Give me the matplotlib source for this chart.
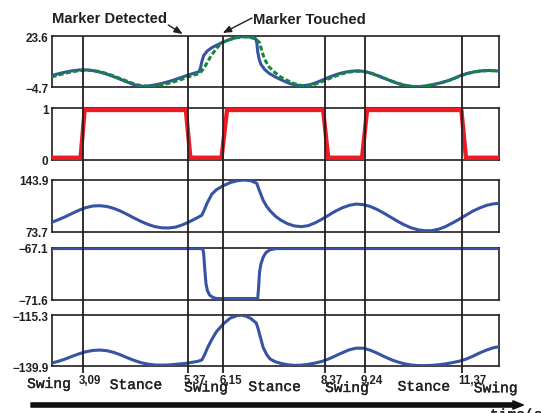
import matplotlib
matplotlib.use("Agg")
import matplotlib.pyplot as plt
import matplotlib.patheffects as pe

plt.rcParams['font.family'] = ['Liberation Sans', 'DejaVu Sans']

# ---- data ----
# event times (vertical markers)
event_times = [3.09, 5.37, 6.15, 8.37, 9.24, 11.37]
event_labels = ['3,09', '5.37', '6,15', '8,37', '9,24', '11,37']
phase_names = ['Swing', 'Stance', 'Swing', 'Stance', 'Swing', 'Stance', 'Swing']

# panel 1: measured (blue) and reference (green dashed)
p1_t = [2.40, 2.55, 2.70, 2.85, 3.00, 3.15, 3.30, 3.45, 3.60, 3.75, 3.90, 4.05, 4.20, 4.35, 4.50,
        4.65, 4.80, 4.95, 5.10, 5.25, 5.37, 5.50, 5.62, 5.65, 5.68, 5.72, 5.80, 5.90, 6.00, 6.15,
        6.30, 6.45, 6.55, 6.65, 6.75, 6.85, 6.88, 6.90, 6.93, 6.97, 7.05, 7.15, 7.30, 7.45, 7.60,
        7.75, 7.90, 8.05, 8.20, 8.35, 8.50, 8.65, 8.80, 8.95, 9.10, 9.25, 9.40, 9.55, 9.70, 9.85,
        10.00, 10.15, 10.30, 10.45, 10.60, 10.75, 10.90, 11.05, 11.20, 11.35, 11.50, 11.65, 11.80,
        11.95, 12.10, 12.17]
p1_v = [1.8, 2.8, 3.7, 4.4, 4.85, 4.9, 4.5, 3.7, 2.6, 1.2, -0.3, -1.8, -3.3, -4.15, -4.0,
        -3.4, -2.6, -1.6, -0.4, 0.9, 2.0, 3.0, 3.9, 6.0, 9.5, 12.8, 15.4, 17.2, 18.5, 20.3,
        21.8, 22.9, 23.3, 23.3, 23.0, 22.3, 20.0, 15.0, 11.0, 8.0, 5.2, 3.0, 0.8, -1.0, -2.6,
        -3.6, -3.8, -3.2, -1.9, -0.3, 1.3, 2.6, 3.6, 4.2, 4.4, 3.9, 2.9, 1.4, -0.1, -1.6,
        -2.9, -3.8, -4.3, -4.3, -3.8, -3.1, -2.2, -1.1, 0.3, 2.0, 3.1, 3.9, 4.4,
        4.6, 4.4, 4.2]

p1_ref_t = [2.40, 2.55, 2.70, 2.85, 3.00, 3.15, 3.30, 3.45, 3.60, 3.75, 3.90, 4.05, 4.20, 4.35,
            4.50, 4.65, 4.80, 4.95, 5.10, 5.25, 5.37, 5.50, 5.63, 5.73, 5.80, 5.88, 6.00, 6.10,
            6.25, 6.40, 6.55, 6.70, 6.85, 6.94, 7.00, 7.05, 7.15, 7.27, 7.40, 7.55, 7.70, 7.85,
            8.00, 8.15, 8.30, 8.45, 8.60, 8.75, 8.90, 9.05, 9.20, 9.35, 9.50, 9.65, 9.80, 9.95,
            10.10, 10.25, 10.40, 10.55, 10.70, 10.85, 11.00, 11.15, 11.30, 11.45, 11.60, 11.75,
            11.90, 12.05, 12.17]
p1_ref_v = [1.0, 2.1, 3.1, 3.9, 4.5, 4.8, 4.6, 3.9, 2.9, 1.6, 0.1, -1.4, -2.8, -3.8,
            -4.2, -4.0, -3.4, -2.5, -1.4, -0.2, 0.9, 2.0, 3.0, 5.9, 9.2, 12.6, 16.8, 19.6,
            21.3, 22.5, 23.1, 23.0, 22.1, 20.0, 14.5, 10.8, 6.5, 3.6, 1.0, -1.0, -2.7, -3.7,
            -3.8, -3.0, -1.6, 0.0, 1.5, 2.8, 3.7, 4.2, 4.1, 3.3, 2.0, 0.5, -1.0, -2.4,
            -3.5, -4.2, -4.4, -4.1, -3.4, -2.6, -1.6, -0.3, 1.3, 2.6, 3.6, 4.2,
            4.5, 4.5, 4.3]

# panel 2: contact signal
p2_t = [2.40, 3.03, 3.12, 5.33, 5.43, 6.11, 6.23, 8.33, 8.44, 9.18, 9.29, 11.35, 11.45, 12.17]
p2_v = [0, 0, 1, 1, 0, 0, 1, 1, 0, 0, 1, 1, 0, 0]

# panel 3
p3_t = [2.40, 2.55, 2.70, 2.85, 3.00, 3.15, 3.30, 3.45, 3.60, 3.75, 3.90, 4.05, 4.20, 4.35, 4.50,
        4.65, 4.80, 4.95, 5.10, 5.25, 5.37, 5.50, 5.60, 5.68, 5.74, 5.80, 5.90, 6.00, 6.15, 6.30,
        6.45, 6.60, 6.75, 6.88, 6.92, 6.97, 7.02, 7.10, 7.17, 7.28, 7.40, 7.55, 7.70, 7.85, 8.00,
        8.15, 8.30, 8.45, 8.60, 8.75, 8.90, 9.05, 9.20, 9.35, 9.50, 9.65, 9.80, 9.95, 10.10, 10.25,
        10.40, 10.55, 10.70, 10.85, 11.00, 11.15, 11.30, 11.45, 11.60, 11.75, 11.90, 12.05, 12.17]
p3_v = [86.4, 90.0, 94.0, 98.5, 102.8, 106.3, 108.4, 108.8, 107.8, 105.3, 101.6, 97.0, 92.2, 87.6, 83.6,
        80.6, 79.0, 78.7, 79.8, 82.8, 86.0, 90.0, 93.2, 96.0, 104.0, 113.0, 124.5, 130.5, 135.8, 140.0,
        142.5, 143.5, 142.6, 139.0, 132.0, 124.0, 116.0, 107.5, 102.1, 95.0, 89.5, 84.5, 81.5, 80.5, 81.8,
        85.5, 90.5, 96.0, 101.5, 106.0, 109.3, 111.0, 110.3, 108.0, 104.0, 99.0, 93.5, 88.0, 83.0, 79.0,
        76.3, 75.0, 75.1, 77.0, 80.5, 85.3, 90.5, 96.0, 101.5, 105.8, 109.3, 111.3, 112.0]

# panel 4
p4_t = [2.40, 5.70, 5.72, 5.745, 5.77, 5.80, 5.85, 5.92, 6.00, 6.90, 6.92, 6.94, 6.97, 7.02,
        7.08, 7.17, 7.30, 12.17]
p4_v = [-67.15, -67.15, -67.6, -69.0, -70.2, -70.8, -71.2, -71.4, -71.5, -71.5, -70.5, -69.2,
        -68.5, -67.9, -67.5, -67.25, -67.15, -67.15]

# panel 5
p5_t = [2.40, 2.55, 2.70, 2.85, 3.00, 3.15, 3.30, 3.45, 3.60, 3.75, 3.90, 4.05, 4.20, 4.35, 4.50,
        4.65, 4.80, 4.95, 5.10, 5.25, 5.37, 5.50, 5.60, 5.68, 5.74, 5.80, 5.90, 6.00, 6.15, 6.30,
        6.45, 6.55, 6.65, 6.75, 6.87, 6.91, 6.95, 7.02, 7.10, 7.17, 7.28, 7.40, 7.55, 7.70, 7.85,
        8.00, 8.15, 8.30, 8.45, 8.60, 8.75, 8.90, 9.05, 9.20, 9.35, 9.50, 9.65, 9.80, 9.95, 10.10,
        10.25, 10.40, 10.55, 10.70, 10.85, 11.00, 11.15, 11.30, 11.45, 11.60, 11.75, 11.90, 12.05,
        12.17]
p5_v = [-138.5, -137.6, -136.5, -135.2, -134.0, -133.0, -132.4, -132.2, -132.5, -133.3, -134.5,
        -135.9, -137.2, -138.3, -139.0, -139.4, -139.5, -139.4, -139.1, -138.8, -138.5, -138.0,
        -137.6, -137.0, -134.5, -131.3, -127.0, -123.3, -119.6, -116.8, -115.6, -115.4, -115.9,
        -117.0, -119.2, -122.0, -125.3, -131.0, -134.5, -136.5, -137.8, -138.6, -139.3, -139.6,
        -139.5, -139.1, -138.5, -137.7, -136.5, -135.0, -133.5, -132.1, -131.3, -131.3, -132.2,
        -133.6, -135.2, -136.7, -137.9, -138.8, -139.4, -139.7, -139.7, -139.6, -139.3, -138.9,
        -138.3, -137.6, -136.6, -135.2, -133.6, -132.2, -131.1, -130.6]

# axis end labels for each panel (bottom, top)
y_ranges = [(-4.7, 23.6), (-0.042, 1.042), (73.7, 143.9), (-71.6, -67.1), (-139.9, -115.3)]
y_labels = [('\u22124.7', '23.6'), ('0', '1'), ('73.7', '143.9'),
            ('\u221271.6', '\u221267.1'), ('\u2212139.9', '\u2212115.3')]

# ---- layout (pixels of a 541x414 image) ----
W, H = 541, 414
X0, X1 = 52, 499
T_LIM = (2.406, 12.172)
rows = [(37, 88.3), (109, 160.7), (180.7, 232.7), (249, 300.7), (316, 367)]
phase_x = [2.34, 4.24, 5.77, 7.27, 8.85, 10.53, 12.10]
phase_y = [389, 390, 392.5, 392, 393, 391.7, 393.3]

BLUE = '#3653a4'
GREEN = '#13873c'
RED = '#ed1c24'
INK = '#231f20'

fig = plt.figure(figsize=(W / 100, H / 100), dpi=100)

axes = []
for (top, bot) in rows:
    ax = fig.add_axes([X0 / W, 1 - bot / H, (X1 - X0) / W, (bot - top) / H])
    ax.set_xlim(T_LIM)
    ax.set_xticks([])
    for s in ax.spines.values():
        s.set_color(INK)
        s.set_linewidth(1.2)
    axes.append(ax)

axes[0].plot(p1_t, p1_v, color=BLUE, lw=2.2, zorder=3)
axes[0].plot(p1_ref_t, p1_ref_v, color=GREEN, lw=2.2, dashes=(1.6, 0.8), zorder=4)
axes[1].plot(p2_t, p2_v, color=RED, lw=3.1, zorder=3, solid_joinstyle='miter')
axes[2].plot(p3_t, p3_v, color=BLUE, lw=2.2, zorder=3)
axes[3].plot(p4_t, p4_v, color=BLUE, lw=2.2, zorder=3)
axes[4].plot(p5_t, p5_v, color=BLUE, lw=2.2, zorder=3)

for ax, yr, yl in zip(axes, y_ranges, y_labels):
    ax.set_ylim(yr)
    ax.set_yticks(yr)
    ax.set_yticklabels(yl, fontsize=8.5, fontweight='bold', color=INK)
    ax.tick_params(axis='y', length=0, pad=2.5)

# overlay for markers, labels and arrows
ov = fig.add_axes([X0 / W, 0, (X1 - X0) / W, 1])
ov.set_xlim(T_LIM)
ov.set_ylim(H, 0)
ov.axis('off')
ov.patch.set_alpha(0)

ov.vlines(event_times, 37, 374, color=INK, lw=1.3)
for t, lbl in zip(event_times, event_labels):
    ov.annotate(lbl, (t, 375), xytext=(-3, 0), textcoords='offset points',
                ha='left', va='top', fontsize=8.3, fontweight='bold', color=INK,
                annotation_clip=False)

mono_fx = [pe.withStroke(linewidth=0.25, foreground=INK)]
for name, px, py in zip(phase_names, phase_x, phase_y):
    ov.text(px, py, name, family='Liberation Mono', fontsize=10.5, ha='center', va='baseline',
            color=INK, clip_on=False, path_effects=mono_fx)

ov.text(2.406, 22.7, 'Marker Detected', fontsize=10.6, fontweight='bold', color=INK,
        ha='left', va='baseline')
ov.annotate('', xy=(5.262, 35), xytext=(4.946, 26),
            arrowprops=dict(arrowstyle='-|>,head_length=0.5,head_width=0.2', color=INK, lw=1,
                            shrinkA=0, shrinkB=0))
ov.text(6.80, 24.5, 'Marker Touched', fontsize=10.6, fontweight='bold', color=INK,
        ha='left', va='baseline')
ov.annotate('', xy=(6.136, 34), xytext=(6.776, 19),
            arrowprops=dict(arrowstyle='-|>,head_length=0.5,head_width=0.2', color=INK, lw=1,
                            shrinkA=0, shrinkB=0))

# time axis arrow
ov.annotate('', xy=(12.703, 406), xytext=(1.947, 406), annotation_clip=False,
            arrowprops=dict(arrowstyle='simple,head_length=0.75,head_width=0.6,tail_width=0.3',
                            color='#111111', mutation_scale=10, shrinkA=0, shrinkB=0))
ov.text(11.975, 409, 'time(s)', family='Liberation Mono', fontsize=10.5, ha='left', va='top',
        color=INK, clip_on=False, path_effects=mono_fx)

fig.savefig('out.png', dpi=100)
